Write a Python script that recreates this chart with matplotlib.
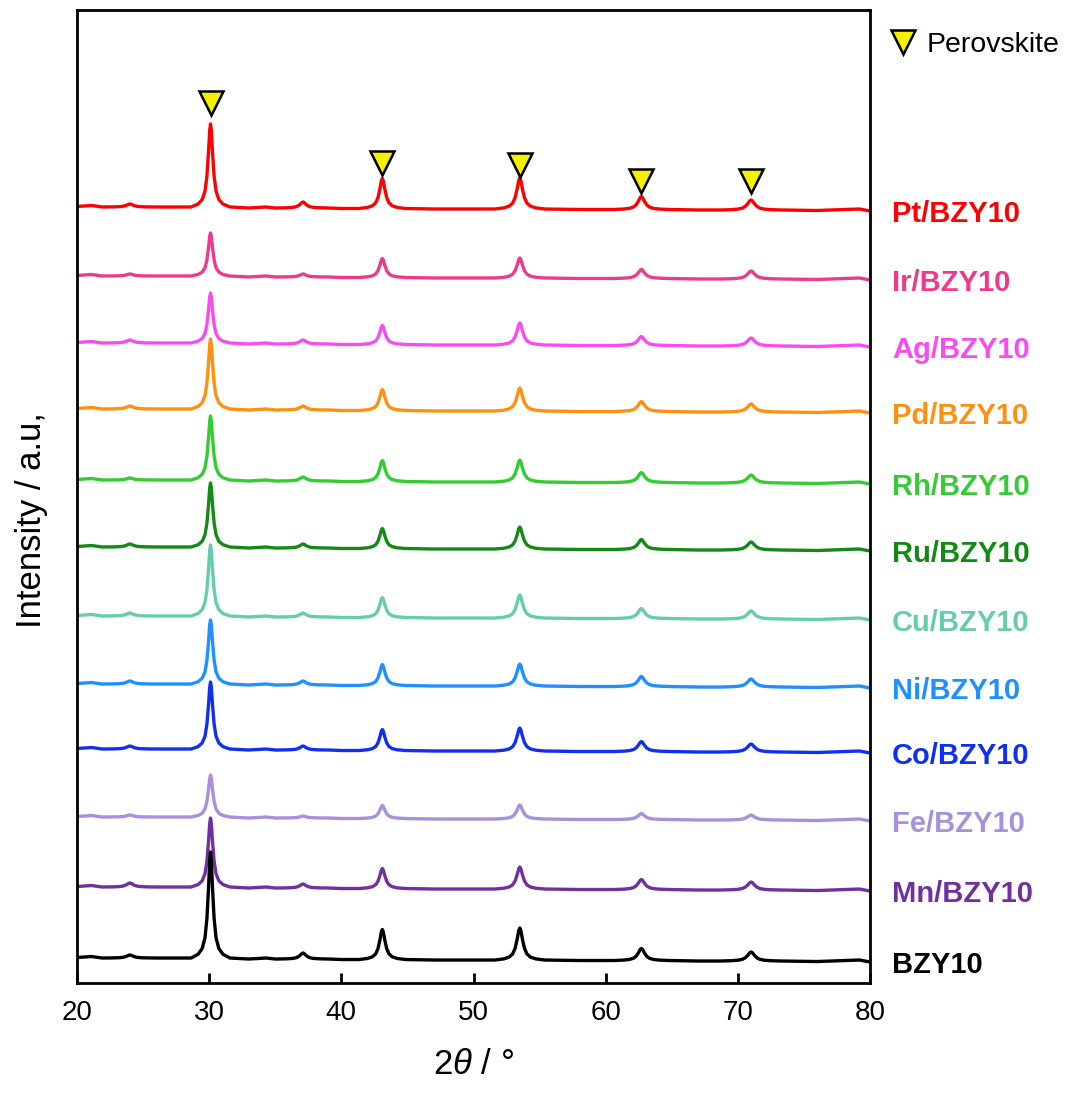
import numpy as np
import matplotlib
matplotlib.use("Agg")
import matplotlib.pyplot as plt
from matplotlib.lines import Line2D

plt.rcParams['font.family'] = ['Liberation Sans', 'DejaVu Sans']
plt.rcParams['mathtext.fontset'] = 'custom'
plt.rcParams['mathtext.it'] = 'Liberation Sans:italic'
plt.rcParams['mathtext.rm'] = 'Liberation Sans'

# ---------------- data ----------------
samples = ["Pt/BZY10", "Ir/BZY10", "Ag/BZY10", "Pd/BZY10", "Rh/BZY10", "Ru/BZY10",
           "Cu/BZY10", "Ni/BZY10", "Co/BZY10", "Fe/BZY10", "Mn/BZY10", "BZY10"]
colors = ["#FF0000", "#EE3A8C", "#F84CF0", "#FF9010", "#33CC33", "#138A13",
          "#66CDAA", "#1E90FF", "#1030F0", "#A890DD", "#7030A0", "#000000"]
# vertical offset of each pattern's baseline (a.u.)
offsets = [775, 706, 639, 573, 502, 435, 366, 298, 233, 165, 95, 24]

# reflections (2theta, deg) and their half widths (deg)
peak_pos = [24.0, 30.1, 37.1, 43.1, 53.5, 62.7, 71.0]
peak_hw = [0.30, 0.21, 0.28, 0.25, 0.27, 0.30, 0.33]
peak_bg = [1.0, 1.0, 0.0, -0.5, -1.0, -1.5, -2.0]
# peak heights (a.u.) per sample, order as peak_pos
heights = {
    "Pt/BZY10": [3, 83, 6, 30, 31, 13, 10],
    "Ir/BZY10": [2, 43, 3, 19, 20, 9, 8],
    "Ag/BZY10": [3, 50, 4, 19, 22, 9, 8],
    "Pd/BZY10": [3, 70, 4, 21, 23, 10, 8],
    "Rh/BZY10": [2, 64, 4, 21, 22, 10, 8],
    "Ru/BZY10": [3, 64, 4, 20, 22, 10, 8],
    "Cu/BZY10": [3, 71, 4, 20, 23, 10, 8],
    "Ni/BZY10": [3, 64, 4, 21, 22, 10, 8],
    "Co/BZY10": [3, 67, 4, 21, 23, 10, 8],
    "Fe/BZY10": [2, 42, 2, 13, 14, 6, 5],
    "Mn/BZY10": [4, 69, 4, 20, 22, 10, 8],
    "BZY10":    [3, 106, 6, 30, 32, 12, 9],
}
# peak profile shape read from the main reflection (offset in half widths, fraction of height)
profile_dx = [-7, -4.5, -3, -2, -1.3, -0.7, -0.3, 0, 0.3, 0.7, 1.3, 2, 3, 4.5, 7]
profile_frac = [0, 0.035, 0.09, 0.19, 0.37, 0.67, 0.92, 1, 0.92, 0.67, 0.37, 0.19, 0.09, 0.035, 0]
# background points
bg_x = [20, 21.1, 21.9, 27, 33, 34.3, 35.0, 40, 47, 58, 67, 76, 79.2, 80]
bg_y = [1.5, 2.5, 1.0, 1.0, 0.0, 1.0, 0.0, -0.5, -1.0, -1.5, -2.0, -2.5, -1.0, -3.0]

# perovskite markers
marker_x = [30.1, 43.1, 53.5, 62.7, 71.0]
marker_y = [880, 820, 818, 802, 802]

xticks = [20, 30, 40, 50, 60, 70, 80]

# ---------------- figure ----------------
fig = plt.figure(figsize=(10.67, 10.97), dpi=100)
ax = fig.add_axes([0.0722, 0.1039, 0.7432, 0.887])

for name, col, off in zip(samples, colors, offsets):
    pts = list(zip(bg_x, bg_y))
    for pos, hw, bg, h in zip(peak_pos, peak_hw, peak_bg, heights[name]):
        for dx, fr in zip(profile_dx, profile_frac):
            pts.append((pos + dx * hw, bg + h * fr))
    pts.sort()
    xs = [p[0] for p in pts]
    ys = [off + p[1] for p in pts]
    ax.plot(xs, ys, color=col, lw=2.4, solid_joinstyle='round')
    ax.text(1.028, off - 6, name, transform=ax.get_yaxis_transform(), color=col,
            fontsize=21, fontweight='bold', va='center', ha='left', clip_on=False)

ax.plot(marker_x, marker_y, ls='none', marker='v', markersize=17,
        markerfacecolor='#F5F000', markeredgecolor='black', markeredgewidth=1.8)

ax.set_xlim(20, 80)
ax.set_ylim(0, 973)
ax.set_xticks(xticks)
ax.set_yticks([])
ax.tick_params(axis='x', direction='in', length=7, width=2, labelsize=20, pad=12)
for s in ax.spines.values():
    s.set_linewidth(2)

ax.set_xlabel(r"$2\theta$ / °", fontsize=25, labelpad=16)
ax.set_ylabel("Intensity / a.u,", fontsize=25)
ax.yaxis.set_label_coords(-0.036, 0.476)

h = Line2D([], [], ls='none', marker='v', markersize=17, markerfacecolor='#F5F000',
           markeredgecolor='black', markeredgewidth=1.8)
fig.legend(handles=[h], labels=["Perovskite"], loc='center left',
           bbox_to_anchor=(0.836, 0.959), frameon=False, fontsize=20.5,
           handlelength=0.8, handletextpad=0.4, borderpad=0, borderaxespad=0)

fig.savefig("out.png", dpi=100)
